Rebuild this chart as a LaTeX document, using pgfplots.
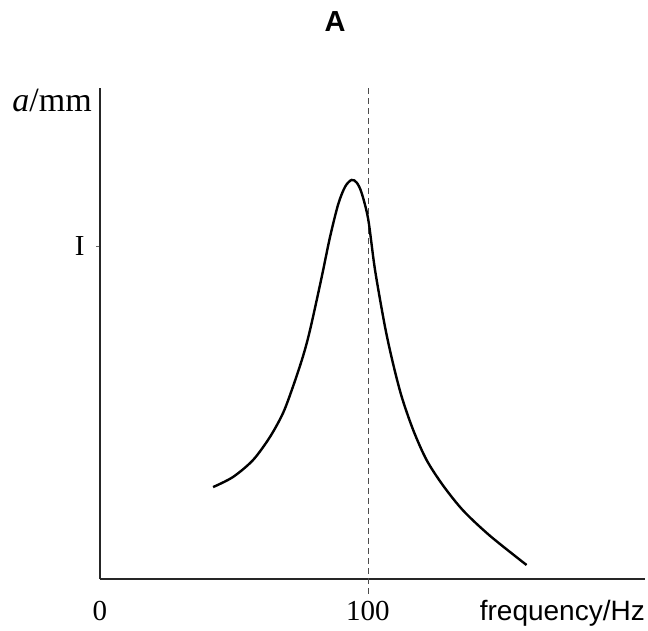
\documentclass[border=0pt]{standalone}
\usepackage{pgfplots}
\pgfplotsset{compat=1.18}
\usepackage{fontspec}
\setmainfont{Liberation Serif}
\setsansfont{Liberation Sans}

\begin{document}
\begin{tikzpicture}
  % page = 648 x 630, axis box bottom-left at (0,0)
  \path[use as bounding box] (-100pt,-51pt) rectangle (548pt,579pt);
  \begin{axis}[
    at={(0pt,0pt)}, anchor=south west,
    scale only axis=true,
    width=545pt, height=491pt,
    xmin=0, xmax=203.4,
    ymin=0, ymax=1.474,
    axis lines*=left,
    axis line style={line width=2pt, black!85},
    clip=false,
    xtick={0,100},
    xticklabels={0,100},
    ytick={1},
    yticklabels={I},
    x tick style={draw=none},
    y tick style={line width=0.6pt, black!60},
    major tick length=4pt,
    tick align=outside,
    tick pos=left,
    ticklabel style={font=\fontsize{29}{33}\selectfont},
    xticklabel style={anchor=base, yshift=-37pt},
    yticklabel style={anchor=base east, xshift=-8pt, yshift=-10pt},
  ]
    % reference line at 100 Hz
    \addplot[black!70, line width=0.7pt, dash pattern=on 6pt off 4pt]
      coordinates {(100,-0.045) (100,1.474)};
    % resonance curve
    \addplot[black, line width=2.4pt, smooth] coordinates {
      (42.2,0.276) (49.6,0.306) (57.1,0.357) (63.4,0.426) (68.3,0.498)
      (72.0,0.577) (75.7,0.667) (78.4,0.748) (82.7,0.905) (85.8,1.025)
      (88.9,1.125) (91.5,1.178) (93.9,1.198) (95.8,1.190) (97.6,1.160)
      (100.1,1.080) (102.6,0.930) (106.3,0.760) (109.3,0.649) (112.6,0.547)
      (116.9,0.447) (121.9,0.357) (128.1,0.280) (135.6,0.205) (145.5,0.130)
      (159.2,0.042)
    };
  \end{axis}
  \node[font=\sffamily\bfseries\fontsize{29}{33}\selectfont] at (235pt,557pt) {A};
  \node[anchor=east, font=\fontsize{34}{38}\selectfont, inner sep=0pt] at (-8pt,479pt) {\textit{a}/mm};
  \node[anchor=base east, font=\sffamily\fontsize{28}{33}\selectfont, inner sep=0pt] at (545pt,-41pt) {frequency/Hz};
\end{tikzpicture}
\end{document}
